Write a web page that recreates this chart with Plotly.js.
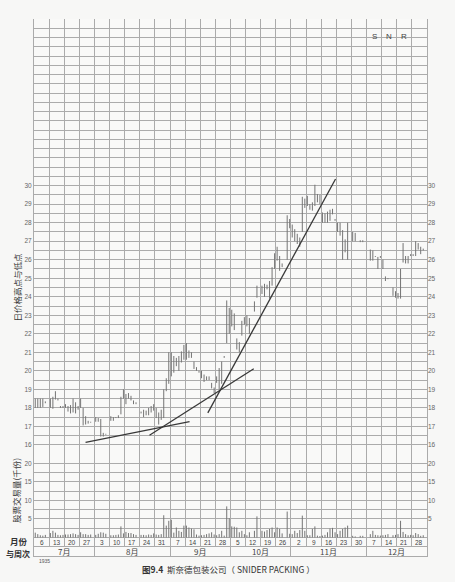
<!DOCTYPE html>
<html><head><meta charset="utf-8">
<script src="https://cdn.plot.ly/plotly-3.0.1.min.js"></script>
<style>html,body{margin:0;padding:0;background:#f7f7f6;} #chart{width:455px;height:582px;}</style>
</head><body><div id="chart"></div>
<script>
// ---- data ----
const weekLabels = ['6','13','20','27','3','10','17','24','31','7','14','21','28','5','12','19','26','2','9','16','23','30','7','14','21','28'];
const monthLabels = ['7月','8月','9月','10月','11月','12月'];
const monthWeeks = [4,5,4,4,5,4];
const priceTicks = [16,17,18,19,20,21,22,23,24,25,26,27,28,29,30];
const volumeTicks = [5,10,15,20];
const sideLetters = ['S','N','R'];

// daily highs, 6 trading days per weekly column
const dayHigh = [
 18.5,18.5,18.5,18.5,18.35,null,
 18.5,18.6,18.9,18.5,18.1,18.1,
 18.2,18.1,18.15,18.5,18.3,18.1,
 18.5,18.0,17.55,17.3,17.25,null,
 17.5,17.45,17.4,16.65,16.6,null,
 17.55,17.5,17.5,17.6,18.6,19.0,
 18.75,18.8,18.65,18.4,18.3,null,
 17.8,17.9,17.85,18.0,18.1,18.2,
 18.0,17.75,17.9,19.0,19.6,21.0,
 21.0,20.8,20.7,20.8,21.05,21.4,
 21.5,21.1,21.0,20.5,20.2,20.0,
 20.0,19.8,19.7,19.7,19.35,19.1,
 19.7,20.15,20.5,20.8,23.8,23.4,
 23.3,23.1,21.75,21.55,22.7,22.9,
 23.0,22.85,null,23.75,24.6,null,
 24.6,24.7,24.65,24.85,25.6,26.35,
 26.7,26.2,25.8,null,28.4,28.2,
 27.9,27.65,27.4,27.2,29.4,29.3,
 29.45,29.0,29.1,30.05,29.55,29.5,
 28.55,28.5,28.6,28.7,28.75,28.2,
 28.0,28.0,27.6,27.1,28.0,null,
 27.5,27.45,null,27.05,27.05,null,
 null,26.55,26.5,26.2,26.15,26.2,
 26.0,25.1,25.0,null,24.5,24.3,
 24.2,25.5,26.9,26.2,26.2,26.3,
 26.3,27.0,26.9,26.7,26.6,null
];
const dayLow = [
 18.0,18.0,18.0,18.05,18.25,null,
 18.0,17.95,18.45,18.4,18.0,18.0,
 18.0,17.8,17.7,17.75,17.7,17.9,
 18.0,17.05,17.1,17.15,17.2,null,
 17.25,17.25,16.45,16.45,16.55,null,
 17.3,17.3,17.45,17.45,17.65,18.5,
 18.2,18.5,18.4,18.2,18.2,null,
 17.7,17.5,17.6,17.6,17.75,17.85,
 17.45,17.1,17.35,17.45,18.9,19.3,
 19.7,19.9,20.25,20.0,20.45,20.6,
 20.6,20.7,20.7,20.1,20.0,19.9,
 19.6,19.4,19.5,19.5,19.05,18.8,
 19.35,19.0,19.3,20.7,21.5,22.0,
 22.4,22.2,21.15,21.0,21.9,22.5,
 22.4,22.0,null,23.2,23.95,null,
 24.15,24.0,24.4,23.9,24.6,25.5,
 25.95,25.4,25.6,null,26.0,27.7,
 27.2,27.0,26.85,26.7,27.5,28.8,
 28.9,28.7,28.65,28.9,29.1,29.0,
 28.0,28.0,28.0,28.1,28.45,28.1,
 27.5,27.3,26.0,26.4,26.0,null,
 27.0,27.0,null,26.95,26.95,null,
 null,25.95,25.95,26.15,25.5,26.1,
 25.5,24.85,24.95,null,24.05,23.95,
 23.9,23.9,25.85,25.8,25.8,26.2,
 26.2,26.2,26.55,26.3,26.5,null
];
// daily volume, thousands of shares
const dayVolume = [
 1.3,0.9,0.6,0.5,0.7,null,
 1.2,1.8,1.3,0.7,0.6,0.7,
 0.8,0.8,0.9,1.1,0.9,0.7,
 1.4,0.9,0.9,0.7,0.8,null,
 0.7,1.0,1.4,1.3,1.0,null,
 0.6,0.6,0.7,0.8,3.0,1.1,
 1.5,1.2,1.2,0.9,0.7,null,
 0.7,0.7,0.6,0.8,0.7,1.1,
 0.8,0.7,0.9,6.0,3.2,4.5,
 4.8,1.3,2.7,1.8,1.5,3.2,
 3.2,2.7,2.4,2.2,0.8,0.5,
 0.6,0.7,0.9,1.1,1.4,0.8,
 0.6,0.9,1.8,0.5,8.4,5.2,
 3.0,2.9,2.7,1.4,1.8,0.9,
 0.6,1.4,null,1.8,5.7,null,
 1.8,1.6,2.0,2.3,2.7,1.4,
 2.7,2.3,1.1,null,7.0,1.0,
 0.9,1.8,1.2,2.0,5.9,1.8,
 0.6,0.6,2.3,3.0,0.5,0.4,
 0.5,0.7,1.4,2.4,2.6,1.4,
 0.9,1.8,2.3,2.7,3.2,null,
 0.45,0.3,null,0.45,0.45,null,
 null,0.9,1.8,0.7,0.6,0.5,
 0.6,0.7,0.9,null,0.6,0.7,
 0.9,4.5,1.5,0.9,0.6,0.7,
 0.6,1.2,0.9,0.45,0.6,null
];
// hand-drawn trend lines (x in week columns, y in price)
const trendStartX = [3.41, 7.64, 11.5];
const trendStartY = [16.14, 16.52, 17.73];
const trendEndX = [10.29, 14.54, 19.95];
const trendEndY = [17.26, 20.11, 30.36];

// ---- build ----
const DAYS = 6, NW = weekLabels.length;
const GRID = '#ababab', BAR = '#747474';
const px = [], py = [], vx = [], vy = [];
dayHigh.forEach((h, i) => {
  const x = Math.floor(i / DAYS) + ((i % DAYS) + 0.5) / DAYS;
  if (h !== null && dayLow[i] !== null) { px.push(x, x, null); py.push(dayLow[i], h, null); }
  if (dayVolume[i] !== null) { vx.push(x, x, null); vy.push(0, dayVolume[i], null); }
});
const colEdges = Array.from({length: NW + 1}, (_, k) => k);
const monthEdges = [0]; monthWeeks.forEach(n => monthEdges.push(monthEdges[monthEdges.length - 1] + n));
const priceGrid = []; for (let v = 15.5; v <= 39.001; v += 0.5) priceGrid.push(v);
const priceText = priceGrid.map(v => priceTicks.includes(v) ? String(v) : '');
const volGrid = []; for (let v = -2.5; v <= 22.501; v += 2.5) volGrid.push(v);
const volText = volGrid.map(v => volumeTicks.includes(v) ? String(v) : '');

const traces = [
  {x: px, y: py, mode: 'lines', line: {color: BAR, width: 1}, xaxis: 'x', yaxis: 'y', connectgaps: false},
  {x: vx, y: vy, mode: 'lines', line: {color: BAR, width: 1}, xaxis: 'x', yaxis: 'y2', connectgaps: false},
  {x: [], y: [], xaxis: 'x', yaxis: 'y3', mode: 'lines'},
  {x: [], y: [], xaxis: 'x', yaxis: 'y4', mode: 'lines'},
  {x: [], y: [], xaxis: 'x2', yaxis: 'y5', mode: 'lines'}
];
trendStartX.forEach((x0, i) => traces.push({
  x: [x0, trendEndX[i]], y: [trendStartY[i], trendEndY[i]], mode: 'lines',
  line: {color: '#383838', width: 1.3}, xaxis: 'x', yaxis: 'y'
}));

const CJK = 'Noto Sans CJK SC, sans-serif';
const tickF = {family: 'Liberation Sans, Arial, sans-serif', size: 6.5, color: '#666'};
const ann = [];
weekLabels.forEach((t, k) => ann.push({x: k + 0.5, y: -1.25, xref: 'x', yref: 'y2', text: t, showarrow: false,
  font: {family: 'Liberation Sans, Arial, sans-serif', size: 6.5, color: '#444'}}));
monthLabels.forEach((t, m) => ann.push({x: (monthEdges[m] + monthEdges[m + 1]) / 2, y: 0.5, xref: 'x2', yref: 'y5',
  text: t, showarrow: false, font: {family: CJK, size: 8, color: '#444'}}));
sideLetters.forEach((t, j) => ann.push({x: 22.5 + j, y: 38.05, xref: 'x', yref: 'y', text: t, showarrow: false,
  font: {family: 'Liberation Sans, Arial, sans-serif', size: 8, color: '#444'}}));
const W = 393, H = 537, L = 34, B = 556;
const P = (x, y) => ({x: (x - L) / W, y: (B - y) / H});
function pa(p, text, font, extra) { return Object.assign({x: p.x, y: p.y, xref: 'paper', yref: 'paper', text: text,
  showarrow: false, xanchor: 'center', yanchor: 'middle', font: font}, extra || {}); }
ann.push(pa(P(16, 287.5), '日价格高点与低点', {family: CJK, size: 8.5, color: '#3a3a3a'}, {textangle: -90}));
ann.push(pa(P(16, 491), '股票交易量(千份)', {family: CJK, size: 8.5, color: '#3a3a3a'}, {textangle: -90}));
ann.push(pa(P(18.5, 541), '<b>月份</b>', {family: CJK, size: 8.5, color: '#333'}));
ann.push(pa(P(17.5, 553), '<b>与周次</b>', {family: CJK, size: 8, color: '#333'}));
ann.push(pa(P(44, 560.5), '1935', {family: 'Liberation Sans, Arial, sans-serif', size: 5, color: '#555'}));
ann.push(pa(P(228.5, 568.5), '<b>图9.4</b>  斯奈德包装公司（ SNIDER PACKING ）', {family: CJK, size: 8.5, color: '#333'}));

const layout = {
  width: 455, height: 582,
  margin: {l: L, r: 455 - L - W, t: 19, b: 582 - B, pad: 0},
  paper_bgcolor: '#f7f7f6', plot_bgcolor: '#f9f9f8',
  showlegend: false, hovermode: false,
  font: {family: 'Liberation Sans, Noto Sans CJK SC, sans-serif', color: '#555', size: 7},
  xaxis: {domain: [0, 1], range: [0, NW], anchor: 'y2', tickmode: 'array', tickvals: colEdges, showticklabels: false,
    ticks: '', showgrid: true, gridcolor: GRID, gridwidth: 1, zeroline: false, showline: false},
  yaxis: {domain: [11 / 58, 1], range: [15.5, 39], anchor: 'x', tickmode: 'array', tickvals: priceGrid, ticktext: priceText,
    showgrid: true, gridcolor: GRID, gridwidth: 1, zeroline: false, ticks: '', tickfont: tickF,
    showline: true, mirror: true, linecolor: GRID, linewidth: 1},
  yaxis3: {overlaying: 'y', side: 'right', anchor: 'x', range: [15.5, 39], tickmode: 'array', tickvals: priceTicks,
    showgrid: false, zeroline: false, ticks: '', tickfont: tickF, showline: false},
  yaxis2: {domain: [1 / 58, 11 / 58], range: [-2.5, 22.5], anchor: 'x', tickmode: 'array', tickvals: volGrid, ticktext: volText,
    showgrid: true, gridcolor: GRID, gridwidth: 1, zeroline: false, ticks: '', tickfont: tickF,
    showline: true, mirror: true, linecolor: GRID, linewidth: 1},
  yaxis4: {overlaying: 'y2', side: 'right', anchor: 'x', range: [-2.5, 22.5], tickmode: 'array', tickvals: volumeTicks,
    showgrid: false, zeroline: false, ticks: '', tickfont: tickF, showline: false},
  xaxis2: {domain: [0, 1], range: [0, NW], anchor: 'y5', tickmode: 'array', tickvals: monthEdges, showticklabels: false,
    ticks: '', showgrid: true, gridcolor: GRID, gridwidth: 1, zeroline: false,
    showline: true, mirror: true, linecolor: GRID, linewidth: 1},
  yaxis5: {domain: [0, 1 / 58], range: [0, 1], anchor: 'x2', showgrid: false, showticklabels: false, ticks: '',
    zeroline: false, showline: true, mirror: true, linecolor: GRID, linewidth: 1},
  annotations: ann
};
Plotly.newPlot('chart', traces, layout, {staticPlot: true, displayModeBar: false});
</script></body></html>
